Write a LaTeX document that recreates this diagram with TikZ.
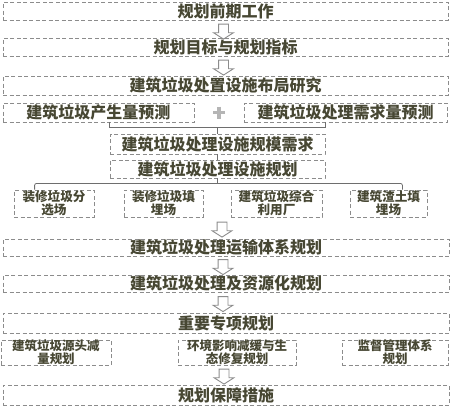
\documentclass[tikz,border=0pt]{standalone}
\usepackage{fontspec}
\newfontfamily\cjk{Noto Sans CJK SC}
\usetikzlibrary{calc,shapes.arrows}
\definecolor{txt}{HTML}{474733}
\definecolor{bord}{HTML}{8C8C8C}
\definecolor{lin}{HTML}{6E6E6E}
\definecolor{plusc}{HTML}{B5B5B5}
\begin{document}
\begin{tikzpicture}[x=1pt,y=-1pt,
  box/.style={draw=bord, line width=0.8pt, dash pattern=on 4pt off 2.5pt,
    inner sep=0pt, text=txt, font=\cjk\bfseries\fontsize{16}{17}\selectfont,
    align=center},
  sbox/.style={box, font=\cjk\bfseries\fontsize{12.6}{13}\selectfont},
  harrow/.style={single arrow, draw=bord, fill=white, line width=0.9pt,
    shape border rotate=270, inner sep=4.5pt, minimum height=15pt,
    single arrow head extend=5pt, single arrow tip angle=115},
  conn/.style={draw=lin, line width=0.8pt},
]
\useasboundingbox (0,0) rectangle (450,410);

\node[box, minimum width=445pt, minimum height=18pt] (n1) at (225.5,11) {规划前期工作};
\node[box, minimum width=445pt, minimum height=18pt] (n2) at (225.5,47) {规划目标与规划指标};
\node[box, minimum width=445pt, minimum height=19pt] (n3) at (225.5,85.5) {建筑垃圾处置设施布局研究};
\node[box, minimum width=191pt, minimum height=19pt] (n4a) at (98.5,112.5) {建筑垃圾产生量预测};
\node[box, minimum width=203pt, minimum height=19pt] (n4b) at (345.5,112.5) {建筑垃圾处理需求量预测};
\node[box, minimum width=215pt, minimum height=20pt] (n5) at (217.5,144) {建筑垃圾处理设施规模需求};
\node[box, minimum width=215pt, minimum height=18pt] (n6) at (217.5,169) {建筑垃圾处理设施规划};

\node[sbox, minimum width=80pt, minimum height=27pt] (a1) at (54,203.5) {装修垃圾分\\选场};
\node[sbox, minimum width=79pt, minimum height=27pt] (a2) at (163.5,203.5) {装修垃圾填\\埋场};
\node[sbox, minimum width=91pt, minimum height=27pt] (a3) at (276.5,203.5) {建筑垃圾综合\\利用厂};
\node[sbox, minimum width=77pt, minimum height=27pt] (a4) at (388.5,203.5) {建筑渣土填\\埋场};

\node[box, minimum width=446pt, minimum height=17pt] (n7) at (226,247.5) {建筑垃圾处理运输体系规划};
\node[box, minimum width=446pt, minimum height=17pt] (n8) at (226,283.5) {建筑垃圾处理及资源化规划};
\node[box, minimum width=446pt, minimum height=20pt] (n9) at (226,323) {重要专项规划};

\node[sbox, font=\cjk\bfseries\fontsize{12.5}{13}\selectfont, minimum width=110pt, minimum height=25pt] (b1) at (56,352.5) {建筑垃圾源头减\\量规划};
\node[sbox, font=\cjk\bfseries\fontsize{12.5}{13}\selectfont, minimum width=118pt, minimum height=25pt] (b2) at (237,352.5) {环境影响减缓与生\\态修复规划};
\node[sbox, font=\cjk\bfseries\fontsize{12.5}{13}\selectfont, minimum width=106pt, minimum height=25pt] (b3) at (395,352.5) {监督管理体系\\规划};

\node[box, minimum width=446pt, minimum height=20pt] (n10) at (226,395) {规划保障措施};

% hollow arrows
\node[harrow] (ar1) at ($(n1.south)!.5!(n2.north)+(-2,1)$) {};
\node[harrow] (ar2) at ($(n2.south)!.5!(n3.north)+(-2,0)$) {};
\node[harrow] (ar3) at ($(a1.south -| n7.north)!.5!(n7.north)+(-4,0)$) {};
\node[harrow] (ar4) at ($(n7.south)!.5!(n8.north)+(-3,0)$) {};
\node[harrow] (ar5) at ($(n8.south)!.5!(n9.north)+(-3,0)$) {};
\node[harrow] (ar6) at ($(b2.south -| n10.north)!.5!(n10.north)+(-2,0)$) {};

% plus sign
\coordinate (plus) at ($(n4a.east)!.5!(n4b.west)$);
\draw[plusc, line width=3.5pt] ($(plus)+(-6,0)$) -- ($(plus)+(6,0)$)
  ($(plus)+(0,-6)$) -- ($(plus)+(0,6)$);

% bracket to n5
\coordinate (j1) at ($(n5.north)+(0,-6)$);
\draw[conn] (n5.west |- n4a.south) -- (n5.west |- j1) -- (n5.east |- j1) -- (n5.east |- n4b.south);
\draw[conn] (j1) -- (n5.north);
\draw[conn] (n5.south) -- (n6.north);

% tree
\coordinate (t) at ($(n6.south)+(0,5)$);
\draw[conn] (n6.south) -- (t);
\draw[conn, rounded corners=2pt] ($(a1.north west)+(21,0)$) |- (t) -| ($(a4.north east)+(-25,0)$);
\end{tikzpicture}
\end{document}
